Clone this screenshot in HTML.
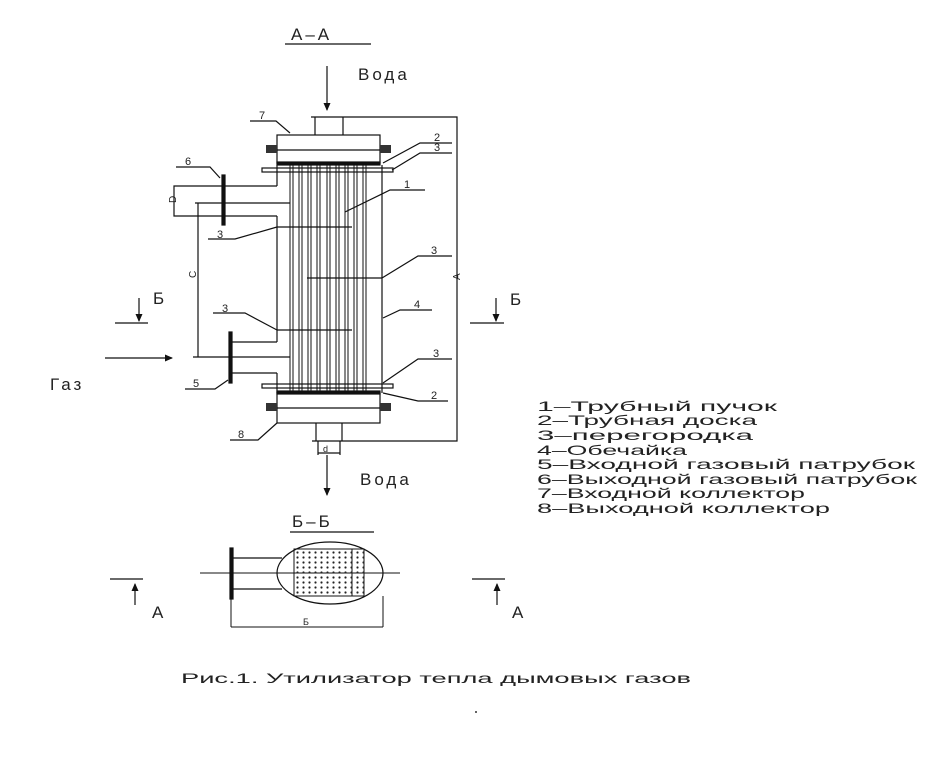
<!DOCTYPE html>
<html><head><meta charset="utf-8"><style>
html,body{margin:0;padding:0;background:#fff}
svg{display:block}
text{font-family:"Liberation Sans","DejaVu Sans",sans-serif;fill:#222}
</style></head><body>
<svg width="940" height="766" viewBox="0 0 940 766" xmlns="http://www.w3.org/2000/svg">
<defs>
<marker id="ah" markerWidth="8" markerHeight="10" refX="7" refY="5" orient="auto" markerUnits="userSpaceOnUse">
<path d="M0,1.5 L8,5 L0,8.5 z" fill="#111"/></marker>
</defs>
<g stroke="#111" stroke-width="1.2" fill="none">
<!-- A-A -->
<line x1="285" y1="44" x2="371" y2="44"/>
<line x1="327" y1="66" x2="327" y2="110" marker-end="url(#ah)"/>
<!-- top nozzle -->
<path d="M315,135 V117 M343,135 V117 M311,117 H347"/>
<!-- top collector -->
<rect x="277" y="135" width="103" height="28"/>
<line x1="277" y1="150" x2="380" y2="150"/>
<rect x="277" y="162" width="103" height="3" fill="#111"/>
<rect x="266" y="145" width="11" height="8" fill="#333" stroke="none"/>
<rect x="380" y="145" width="11" height="8" fill="#333" stroke="none"/>
<!-- top baffle -->
<rect x="262" y="168" width="131" height="4"/>
<!-- shell -->
<line x1="277" y1="165" x2="277" y2="186"/>
<line x1="277" y1="216" x2="277" y2="342"/>
<line x1="277" y1="373" x2="277" y2="393"/>
<line x1="382" y1="165" x2="382" y2="393"/>
<!-- tubes -->
<g stroke-width="1">
<path d="M290,165V393M293,165V393M299,165V393M302,165V393M308,165V393M311,165V393M317,165V393M320,165V393M327,165V393M330,165V393M336,165V393M339,165V393M345,165V393M348,165V393M354,165V393M357,165V393M363,165V393M366,165V393"/>
</g>
<!-- baffles -->
<line x1="277" y1="227" x2="352" y2="227"/>
<line x1="307" y1="278" x2="382" y2="278"/>
<line x1="277" y1="330" x2="352" y2="330"/>
<!-- bottom baffle -->
<rect x="262" y="384" width="131" height="4"/>
<!-- bottom collector -->
<rect x="277" y="391" width="103" height="3" fill="#111"/>
<rect x="277" y="393" width="103" height="30"/>
<line x1="277" y1="408" x2="380" y2="408"/>
<rect x="266" y="403" width="11" height="8" fill="#333" stroke="none"/>
<rect x="380" y="403" width="11" height="8" fill="#333" stroke="none"/>
<path d="M316,423 V441 M342,423 V441 M312,441 H346"/>
<path d="M318,441 V455 M340,441 V455 M318,453 H340"/>
<line x1="327" y1="455" x2="327" y2="495" marker-end="url(#ah)"/>
<!-- right dim A -->
<path d="M347,117 H457 V441 H346"/>
<!-- outlet nozzle 6 -->
<path d="M277,186 H174 V216 H277"/>
<rect x="222" y="175" width="3" height="50" fill="#111"/>
<!-- inlet nozzle 5 -->
<path d="M277,342 H230 M277,373 H230"/>
<rect x="229" y="332" width="3" height="51" fill="#111"/>
<!-- dim C -->
<line x1="195" y1="203" x2="290" y2="203"/>
<line x1="193" y1="357" x2="290" y2="357"/>
<line x1="198" y1="203" x2="198" y2="357"/>
<!-- gas arrow -->
<line x1="105" y1="358" x2="172" y2="358" marker-end="url(#ah)"/>
<!-- B markers -->
<line x1="115" y1="323" x2="148" y2="323"/>
<line x1="139" y1="298" x2="139" y2="321" marker-end="url(#ah)"/>
<line x1="470" y1="323" x2="504" y2="323"/>
<line x1="496" y1="298" x2="496" y2="321" marker-end="url(#ah)"/>
<!-- leaders -->
<path d="M250,121 H276 L290,133"/>
<path d="M176,167 H210 L220,178"/>
<path d="M208,239 H235 L277,227"/>
<path d="M213,313 H245 L277,330"/>
<path d="M185,389 H215 L228,380"/>
<path d="M230,440 H258 L277,423"/>
<path d="M452,143 H420 L383,163"/>
<path d="M452,153 H420 L392,170"/>
<path d="M425,190 H390 L345,212"/>
<path d="M452,256 H418 L382,278"/>
<path d="M432,310 H400 L383,318"/>
<path d="M452,359 H418 L383,383"/>
<path d="M448,401 H418 L383,393"/>
<!-- section B-B -->
<line x1="290" y1="532" x2="374" y2="532"/>
<ellipse cx="330" cy="573" rx="53" ry="31"/>
<rect x="294" y="549" width="70" height="47" stroke-width="1"/>
<line x1="352" y1="549" x2="352" y2="596" stroke-width="1"/>
<line x1="200" y1="573" x2="400" y2="573" stroke-width="1"/>
<path d="M233,558 H282 M233,589 H282"/>
<rect x="230" y="548" width="3" height="51" fill="#111"/>
<path d="M231,599 V627 M383,596 V627 M231,627 H383" stroke-width="1"/>
<!-- A markers -->
<line x1="110" y1="579" x2="143" y2="579"/>
<line x1="135" y1="605" x2="135" y2="584" marker-end="url(#ah)"/>
<line x1="472" y1="579" x2="505" y2="579"/>
<line x1="497" y1="605" x2="497" y2="584" marker-end="url(#ah)"/>
</g>
<!-- dots -->
<g fill="#222">
<pattern id="dp" x="296" y="551" width="6" height="5" patternUnits="userSpaceOnUse"><circle cx="1.5" cy="1.5" r="1.1"/></pattern>
<rect x="296" y="551" width="70" height="45" fill="url(#dp)"/>
</g>
<!-- texts -->
<g font-size="17" letter-spacing="3">
<text x="291" y="40">А–А</text>
<text x="358" y="80">Вода</text>
<text x="360" y="485">Вода</text>
<text x="50" y="390">Газ</text>
<text x="153" y="304">Б</text>
<text x="510" y="305">Б</text>
<text x="292" y="527">Б–Б</text>
<text x="152" y="618">А</text>
<text x="512" y="618">А</text>
</g>
<g font-size="11">
<text x="259" y="119">7</text>
<text x="185" y="165">6</text>
<text x="217" y="238">3</text>
<text x="222" y="312">3</text>
<text x="193" y="387">5</text>
<text x="238" y="438">8</text>
<text x="434" y="141">2</text>
<text x="434" y="151">3</text>
<text x="404" y="188">1</text>
<text x="431" y="254">3</text>
<text x="414" y="308">4</text>
<text x="433" y="357">3</text>
<text x="431" y="399">2</text>
<text x="323" y="452" font-size="9">d</text>
<text x="303" y="625" font-size="9">Б</text>
<text x="172" y="207" font-size="10" transform="rotate(-90 172 203)">D</text>
<text x="193" y="281" font-size="10" transform="rotate(-90 193 278)">C</text>
<text x="457" y="283" font-size="10" transform="rotate(-90 457 280)">A</text>
</g>
<g font-size="14">
<text x="537" y="411" textLength="240" lengthAdjust="spacingAndGlyphs">1–Трубный пучок</text>
<text x="537" y="425" textLength="220" lengthAdjust="spacingAndGlyphs">2–Трубная доска</text>
<text x="537" y="440" textLength="216" lengthAdjust="spacingAndGlyphs">3–перегородка</text>
<text x="537" y="455" textLength="150" lengthAdjust="spacingAndGlyphs">4–Обечайка</text>
<text x="537" y="469" textLength="378" lengthAdjust="spacingAndGlyphs">5–Входной газовый патрубок</text>
<text x="537" y="484" textLength="380" lengthAdjust="spacingAndGlyphs">6–Выходной газовый патрубок</text>
<text x="537" y="498" textLength="268" lengthAdjust="spacingAndGlyphs">7–Входной коллектор</text>
<text x="537" y="513" textLength="293" lengthAdjust="spacingAndGlyphs">8–Выходной коллектор</text>
<text x="181" y="683" textLength="510" lengthAdjust="spacingAndGlyphs">Рис.1. Утилизатор тепла дымовых газов</text>
</g>
<circle cx="476" cy="712" r="1" fill="#333"/>
</svg>
</body></html>
